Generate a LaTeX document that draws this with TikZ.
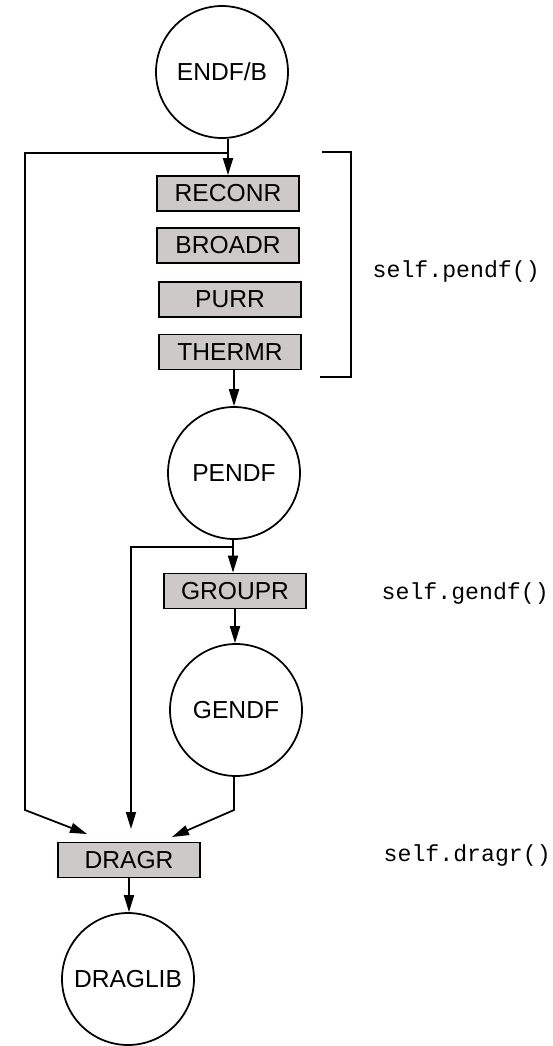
\documentclass[tikz,border=0pt]{standalone}
\usepackage{fontspec}
\setmainfont{Liberation Sans}
\setmonofont{Liberation Mono}
\usetikzlibrary{arrows.meta}
\definecolor{boxgray}{RGB}{205,201,200}

\begin{document}
\begin{tikzpicture}[x=0.02cm, y=-0.02cm, line width=1pt,
    every node/.style={font=\fontsize{14}{16}\selectfont},
    datafile/.style={draw, circle, minimum size=2.64cm, inner sep=0pt},
    module/.style={draw, fill=boxgray, minimum width=2.84cm, minimum height=0.7cm, inner sep=0pt},
    call/.style={anchor=west, font=\ttfamily\fontsize{13.2}{16}\selectfont},
    flow/.style={-{Triangle[length=0.34cm, width=0.2cm]}}]

      \useasboundingbox (0,0) rectangle (552,1046);

      % Data files
      \node[datafile] (endf) at (222,72) {ENDF/B};
      \node[datafile] (pendf) at (234,473) {PENDF};
      \node[datafile] (gendf) at (236,710) {GENDF};
      \node[datafile] (draglib) at (128,979) {DRAGLIB};

      % Modules
      \node[module] (reconr) at (228,193.5) {RECONR};
      \node[module] (broadr) at (228,245.5) {BROADR};
      \node[module] (purr) at (230,299.5) {PURR};
      \node[module] (thermr) at (230,352) {THERMR};
      \node[module] (groupr) at (235,591) {GROUPR};
      \node[module] (dragr) at (129,860) {DRAGR};

      % Calls
      \node[call] (pendfcall) at (366,271) {self.pendf()};
      \node[call] (gendfcall) at (375,593) {self.gendf()};
      \node[call] (dragrcall) at (377,855) {self.dragr()};

      % Bends and arrow ends
      \coordinate (j1) at (228,153);
      \coordinate (k1) at (25,153);
      \coordinate (k2) at (25,810);
      \coordinate (e1) at (87,834);
      \coordinate (j2) at (233,547);
      \coordinate (k3) at (131,547);
      \coordinate (e2) at (131,829);
      \coordinate (k4) at (234,810);
      \coordinate (e3) at (172,837);

      % Main chain
      \draw[flow] (reconr.north |- endf.south) -- (reconr.north);
      \draw[flow] (pendf.north |- thermr.south) -- (pendf.north);
      \draw[flow] (j2 |- pendf.south) -- (j2 |- groupr.north);
      \draw[flow] (groupr.south) -- (groupr.south |- gendf.north);
      \draw[flow] (dragr.south) -- (dragr.south |- draglib.north);

      % Branches to DRAGR
      \draw[flow] (j1) -- (k1) -- (k2) -- (e1);
      \draw[flow] (j2) -- (k3) -- (e2);
      \draw[flow] (k4 |- gendf.south) -- (k4) -- (e3);

      % Bracket
      \draw (322,152) -- (351,152) -- (351,377) -- (320,377);

\end{tikzpicture}
\end{document}
